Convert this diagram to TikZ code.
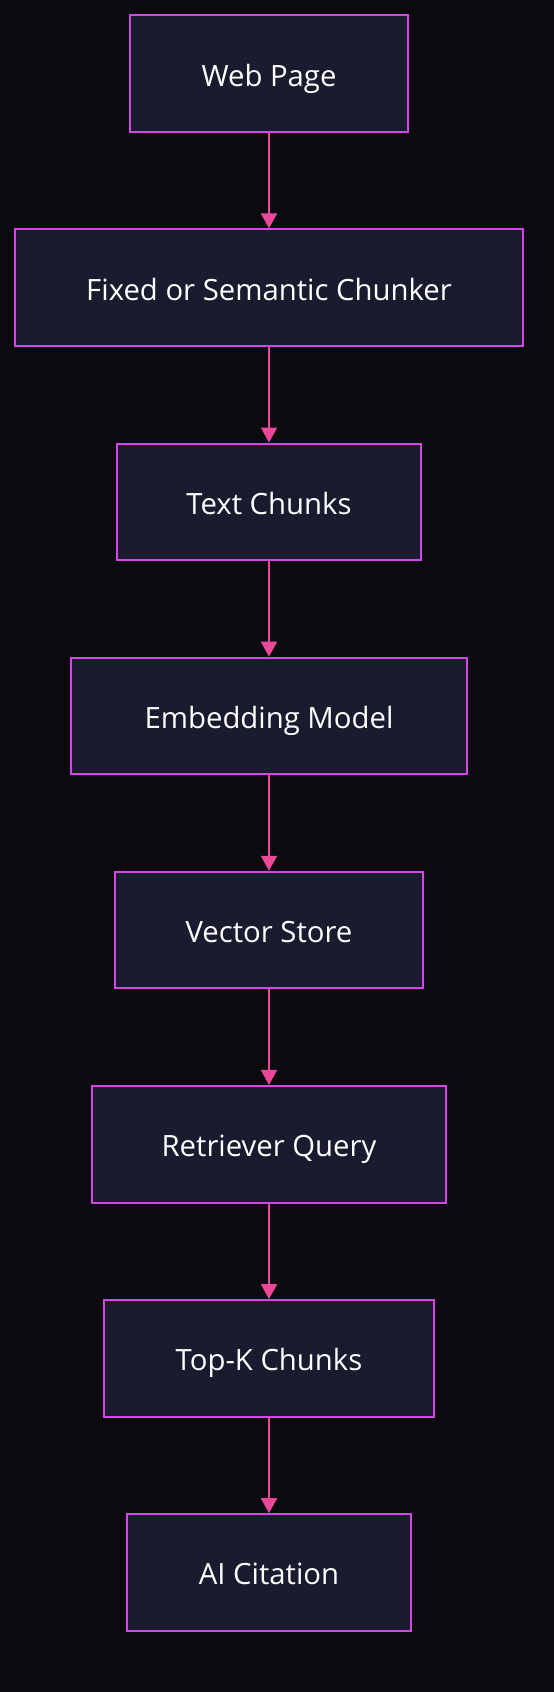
\documentclass[tikz,border=0pt]{standalone}
\usepackage{fontspec}
\setmainfont{Open Sans}
\usetikzlibrary{arrows.meta}
\definecolor{bgc}{HTML}{0A0A0F}
\definecolor{boxfill}{HTML}{1A1B2E}
\definecolor{boxline}{HTML}{D446E6}
\definecolor{arrowc}{HTML}{EC4899}
\tikzset{
  flowbox/.style={draw=boxline, line width=2pt, fill=boxfill, text=white,
    minimum height=116.7pt, inner sep=0pt, text height=24.8pt, text depth=0pt,
    font=\fontsize{29.3}{34}\selectfont},
  flowarrow/.style={draw=arrowc, line width=2pt, -{Triangle[length=15pt,width=16pt]}}
}
\begin{document}
\begin{tikzpicture}[x=1pt,y=-1pt]
\useasboundingbox[fill=bgc] (0,0) rectangle (554,1692);
\node[flowbox, minimum width=278.6pt] (n1) at (269,73.6) {Web Page};
\node[flowbox, minimum width=507.6pt] (n2) at (269,287.7) {Fixed or Semantic Chunker};
\node[flowbox, minimum width=304.6pt] (n3) at (269,501.9) {Text Chunks};
\node[flowbox, minimum width=395.2pt] (n4) at (269,716.0) {Embedding Model};
\node[flowbox, minimum width=308.8pt] (n5) at (269,930.1) {Vector Store};
\node[flowbox, minimum width=354.2pt] (n6) at (269,1144.3) {Retriever Query};
\node[flowbox, minimum width=330.4pt] (n7) at (269,1358.4) {Top-K Chunks};
\node[flowbox, minimum width=284.6pt] (n8) at (269,1572.5) {AI Citation};
\draw[flowarrow] (n1.south) -- (n2.north);
\draw[flowarrow] (n2.south) -- (n3.north);
\draw[flowarrow] (n3.south) -- (n4.north);
\draw[flowarrow] (n4.south) -- (n5.north);
\draw[flowarrow] (n5.south) -- (n6.north);
\draw[flowarrow] (n6.south) -- (n7.north);
\draw[flowarrow] (n7.south) -- (n8.north);
\end{tikzpicture}
\end{document}
